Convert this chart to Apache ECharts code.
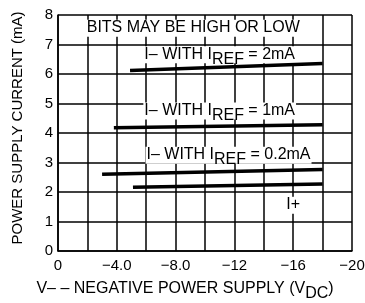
<!DOCTYPE html>
<html>
<head>
<meta charset="utf-8">
<script src="https://cdn.jsdelivr.net/npm/echarts@6/dist/echarts.min.js"></script>
<style>
  html, body { margin: 0; padding: 0; background: #fff; }
  #main { width: 365px; height: 303px; }
</style>
</head>
<body>
<div id="main"></div>
<script>
// data
var xTicks = [0, -4, -8, -12, -16, -20];
var yTicks = [0, 1, 2, 3, 4, 5, 6, 7, 8];
var iRef2 = [[-4.9, 6.12], [-18, 6.36]];
var iRef1 = [[-3.8, 4.18], [-18, 4.28]];
var iRef02 = [[-3.0, 2.60], [-18, 2.76]];
var iPlus = [[-5.1, 2.16], [-18, 2.27]];

var font = 'Liberation Sans, Arial, sans-serif';
var myChart = echarts.init(document.getElementById('main'));

function tickLabel(v) {
  if (xTicks.indexOf(v) < 0) return '';
  if (v === 0) return '0';
  var s = Math.abs(v) < 10 ? Math.abs(v).toFixed(1) : String(Math.abs(v));
  return '\u2212' + s;
}

function line(name, data) {
  return {
    name: name,
    type: 'line',
    data: data,
    symbol: 'none',
    silent: true,
    lineStyle: { color: '#000', width: 3.5 },
    z: 3
  };
}

var option = {
  animation: false,
  backgroundColor: '#fff',
  grid: { left: 58, right: 13, top: 15, bottom: 52, containLabel: false, outerBoundsMode: 'none' },
  xAxis: {
    type: 'value',
    min: -20,
    max: 0,
    interval: 2,
    inverse: true,
    axisLine: { show: true, lineStyle: { color: '#000', width: 1.5 } },
    axisTick: { show: false },
    splitLine: { show: true, lineStyle: { color: '#000', width: 1.5 } },
    axisLabel: {
      color: '#000', fontSize: 15, fontFamily: font, margin: 7,
      formatter: tickLabel
    },
    name: '{t|V\u2013 \u2013 NEGATIVE POWER SUPPLY (V}{s|DC}{t|)}',
    nameLocation: 'middle',
    nameGap: 30,
    nameTextStyle: {
      padding: [0, 40, 0, 0],
      rich: {
        t: { color: '#000', fontSize: 16, fontFamily: font, verticalAlign: 'top', lineHeight: 17 },
        s: { color: '#000', fontSize: 16, fontFamily: font, verticalAlign: 'top', lineHeight: 17, padding: [5, 0, 0, 0] }
      }
    }
  },
  yAxis: {
    type: 'value',
    min: 0,
    max: 8,
    interval: 1,
    axisLine: { show: true, lineStyle: { color: '#000', width: 1.5 } },
    axisTick: { show: false },
    splitLine: { show: true, lineStyle: { color: '#000', width: 1.5 } },
    axisLabel: { color: '#000', fontSize: 15, fontFamily: font, margin: 5 },
    name: 'POWER SUPPLY CURRENT (mA)',
    nameLocation: 'middle',
    nameGap: 33,
    nameTextStyle: { color: '#000', fontSize: 15, fontFamily: font, padding: [0, 0, 0, 10] }
  },
  series: [
    line('I\u2013 IREF 2mA', iRef2),
    line('I\u2013 IREF 1mA', iRef1),
    line('I\u2013 IREF 0.2mA', iRef02),
    line('I+', iPlus)
  ]
};
myChart.setOption(option);

// annotations, placed through the axes
var notes = [
  { at: [-9.2, 7.55], text: '{t|BITS MAY BE HIGH OR LOW}' },
  { at: [-11.0, 6.65], text: '{t|I\u2013 WITH I}{s|REF}{t| = 2mA}' },
  { at: [-11.0, 4.75], text: '{t|I\u2013 WITH I}{s|REF}{t| = 1mA}' },
  { at: [-11.6, 3.25], text: '{t|I\u2013 WITH I}{s|REF}{t| = 0.2mA}' },
  { at: [-16.0, 1.55], text: '{t|I+}' }
];
var rich = {
  t: { fill: '#000', fontSize: 16, fontFamily: font, verticalAlign: 'top', lineHeight: 17 },
  s: { fill: '#000', fontSize: 16, fontFamily: font, verticalAlign: 'top', lineHeight: 17, padding: [5, 0, 0, 0] }
};
var graphics = notes.map(function (n) {
  var p = myChart.convertToPixel({ gridIndex: 0 }, n.at);
  return {
    type: 'text',
    x: p[0],
    y: p[1],
    z: 2,
    style: {
      text: n.text,
      rich: rich,
      align: 'center',
      verticalAlign: 'middle',
      backgroundColor: '#fff',
      padding: [0, 1]
    }
  };
});
myChart.setOption({ graphic: graphics });
</script>
</body>
</html>
